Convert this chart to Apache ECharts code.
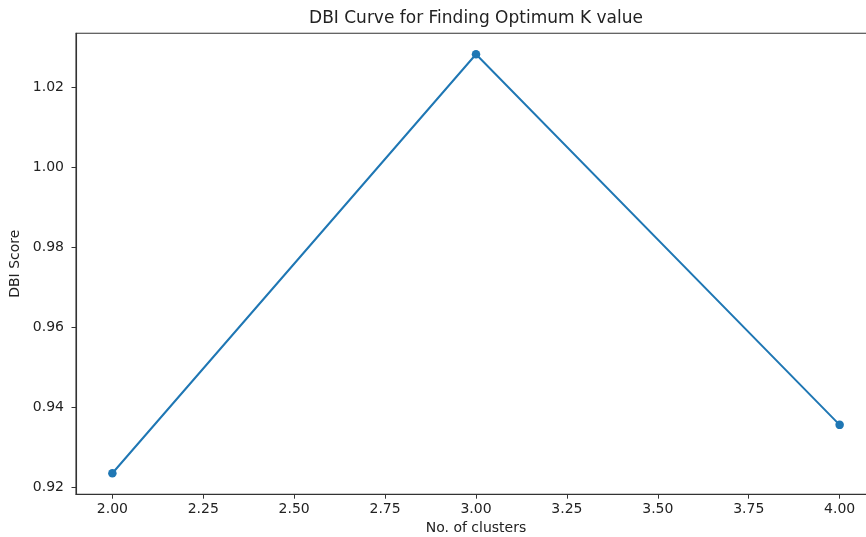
<!DOCTYPE html>
<html>
<head>
<meta charset="utf-8">
<script src="https://cdn.jsdelivr.net/npm/echarts@6/dist/echarts.min.js"></script>
<style>
html,body{margin:0;padding:0;background:#fff;}
#chart{width:866px;height:537px;}
</style>
</head>
<body>
<div id="chart"></div>
<script>
const titleText = "DBI Curve for Finding Optimum K value";
const xName = "No. of clusters";
const yName = "DBI Score";
const clusters = [2, 3, 4];
const dbiScores = [0.9235, 1.0283, 0.9356];
const xTicks = [2.00, 2.25, 2.50, 2.75, 3.00, 3.25, 3.50, 3.75, 4.00];
const yTicks = [0.92, 0.94, 0.96, 0.98, 1.00, 1.02];

const FONT = "DejaVu Sans";
const xr = [Math.min(...clusters), Math.max(...clusters)];
const yr = [Math.min(...dbiScores), Math.max(...dbiScores)];
const xpad = (xr[1] - xr[0]) * 0.05, ypad = (yr[1] - yr[0]) * 0.05;

const chart = echarts.init(document.getElementById('chart'), null, {renderer: 'canvas'});
chart.setOption({
  animation: false,
  backgroundColor: '#fff',
  title: {
    text: titleText, left: 471, textAlign: 'center', top: 5,
    textStyle: {fontFamily: FONT, fontSize: 17, fontWeight: 'normal', color: '#222'}
  },
  grid: {
    left: 76, top: 33.3, width: 800, height: 460.9,
    containLabel: false, outerBoundsMode: 'none',
    show: true, borderColor: '#333', borderWidth: 1.1, backgroundColor: 'transparent'
  },
  xAxis: {
    type: 'value', min: xr[0] - xpad, max: xr[1] + xpad,
    name: xName, nameLocation: 'middle', nameGap: 27,
    nameTextStyle: {fontFamily: FONT, fontSize: 14, color: '#222'},
    axisLine: {show: true, lineStyle: {color: '#333', width: 1.1}},
    axisTick: {show: true, length: 4.5, customValues: xTicks, lineStyle: {color: '#333', width: 1}},
    axisLabel: {customValues: xTicks, margin: 8, fontFamily: FONT, fontSize: 14, color: '#222',
      formatter: v => v.toFixed(2)},
    splitLine: {show: false}
  },
  yAxis: {
    type: 'value', min: yr[0] - ypad, max: yr[1] + ypad,
    name: yName, nameLocation: 'middle', nameGap: 52, nameRotate: 90,
    nameTextStyle: {fontFamily: FONT, fontSize: 14, color: '#222'},
    axisLine: {show: true, lineStyle: {color: '#333', width: 1.1}},
    axisTick: {show: true, length: 4.5, customValues: yTicks, lineStyle: {color: '#333', width: 1}},
    axisLabel: {customValues: yTicks, margin: 12, fontFamily: FONT, fontSize: 14, color: '#222',
      formatter: v => v.toFixed(2)},
    splitLine: {show: false}
  },
  series: [{
    type: 'line',
    data: clusters.map((c, i) => [c, dbiScores[i]]),
    symbol: 'circle', symbolSize: 8.5, showAllSymbol: true,
    lineStyle: {color: '#1f77b4', width: 2},
    itemStyle: {color: '#1f77b4'}
  }]
});
</script>
</body>
</html>
